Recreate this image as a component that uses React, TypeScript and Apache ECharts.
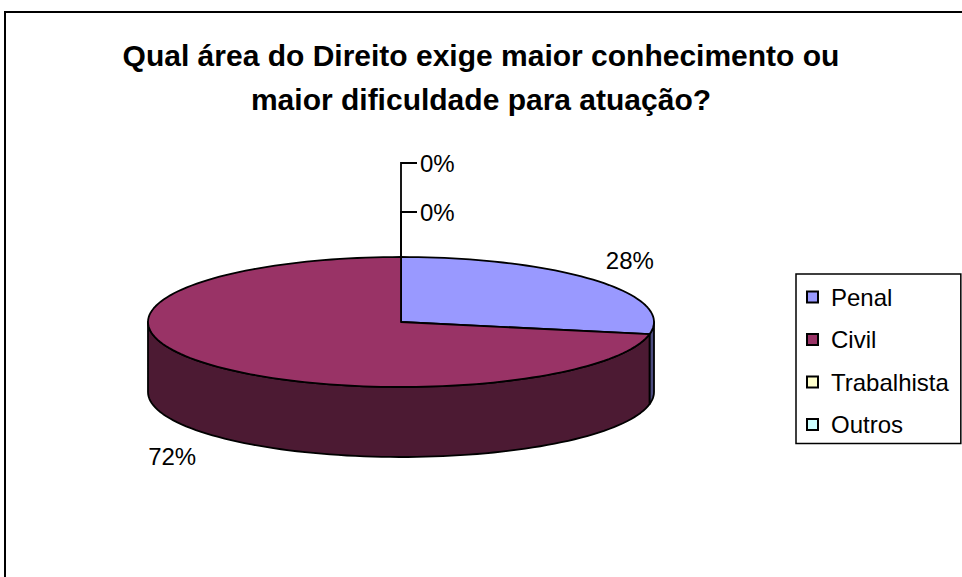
import React, { useEffect, useRef } from "react";
import * as echarts from "echarts";

const titleLines = ["Qual área do Direito exige maior conhecimento ou", "maior dificuldade para atuação?"];
const categories = ["Penal", "Civil", "Trabalhista", "Outros"];
const values = [28, 72, 0, 0];
const topColors = ["#9999FF", "#993366", "#FFFFCC", "#CCFFFF"];
const sideColors = ["#4D4D80", "#4C1A33", "#80806A", "#6A8080"];

const FONT = "'Liberation Sans', Arial, sans-serif";

export default function App() {
  const ref = useRef<HTMLDivElement>(null);
  useEffect(() => {
    if (!ref.current) return;
    const chart = echarts.init(ref.current, null, { renderer: "svg" });
    const total = values.reduce((a, b) => a + b, 0);

    const cx = 401, cy = 322, rx = 253, ry = 65, depth = 70;
    const pt = (deg: number, dy = 0) => {
      const r = (deg * Math.PI) / 180;
      return [cx + rx * Math.sin(r), cy - ry * Math.cos(r) + dy];
    };
    const arc = (a0: number, a1: number, dy = 0) => {
      const pts: number[][] = [];
      const n = Math.max(2, Math.ceil(Math.abs(a1 - a0) / 2));
      for (let i = 0; i <= n; i++) pts.push(pt(a0 + ((a1 - a0) * i) / n, dy));
      return pts;
    };

    const slices: { a0: number; a1: number }[] = [];
    let acc = 0;
    values.forEach((v) => {
      const a0 = (acc / total) * 360;
      acc += v;
      slices.push({ a0, a1: (acc / total) * 360 });
    });

    const stroke = { stroke: "#000", lineWidth: 1.8, lineJoin: "round" as const };

    const renderItem = (params: any) => {
      const idx = params.dataIndex;
      const { a0, a1 } = slices[idx];
      const v = values[idx];
      const children: any[] = [];
      const pct = Math.round((v / total) * 100) + "%";
      if (v > 0) {
        const s0 = Math.max(a0, 90), s1 = Math.min(a1, 270);
        if (s1 > s0) {
          const top = arc(s0, s1);
          const bot = arc(s1, s0, depth);
          children.push({
            type: "polygon",
            shape: { points: top.concat(bot) },
            style: { fill: sideColors[idx], ...stroke },
          });
        }
        children.push({
          type: "polygon",
          shape: { points: [[cx, cy]].concat(arc(a0, a1)) },
          style: { fill: topColors[idx], ...stroke },
        });
        const mid = ((a0 + a1) / 2) * Math.PI / 180;
        const c = Math.cos(mid);
        const lx = cx + (rx + 44) * Math.sin(mid);
        const ly = cy - (ry + 32) * c + (c < 0 ? depth + 3 : 0);
        children.push({
          type: "text",
          x: lx, y: ly,
          style: { text: pct, font: `24px ${FONT}`, fill: "#000", align: "center", verticalAlign: "middle" },
          z2: 10,
        });
      } else {
        // zero slices: stacked labels above the top with a leader line
        const zeroIdx = values.slice(0, idx).filter((x) => x === 0).length;
        const topY = cy - ry;
        const ty = topY - 45 - 49 * zeroIdx;
        children.push({
          type: "polyline",
          shape: { points: [[cx, topY], [cx, ty], [cx + 16, ty]] },
          style: { stroke: "#000", lineWidth: 1.8, fill: null },
        });
        children.push({
          type: "text",
          x: cx + 19, y: ty,
          style: { text: pct, font: `24px ${FONT}`, fill: "#000", align: "left", verticalAlign: "middle" },
        });
      }
      return { type: "group", children };
    };

    const legendSeries = categories.map((name, i) => ({
      type: "custom" as const,
      name,
      coordinateSystem: "none",
      data: [],
      renderItem: () => ({ type: "group", children: [] }),
      itemStyle: { color: topColors[i], borderColor: "#000", borderWidth: 1 },
    }));

    chart.setOption({
      animation: false,
      backgroundColor: "#fff",
      title: {
        text: titleLines.join("\n"),
        left: 476,
        top: 28,
        textAlign: "center",
        textStyle: { fontFamily: FONT, fontWeight: "bold", fontSize: 30, lineHeight: 44, color: "#000" },
      },
      legend: {
        orient: "vertical",
        left: 796,
        top: 274,
        data: categories,
        icon: "rect",
        itemWidth: 11,
        itemHeight: 11,
        itemGap: 18.5,
        padding: [11, 12, 7, 10],
        borderColor: "#000",
        borderWidth: 1.5,
        textStyle: { fontFamily: FONT, fontSize: 24, color: "#000", padding: [0, 0, 0, 8] },
        selectedMode: false,
      },
      graphic: [
        {
          type: "polyline",
          shape: { points: [[5, 620], [5, 12], [970, 12]] },
          style: { fill: null, stroke: "#000", lineWidth: 2 },
          silent: true,
        },
      ],
      series: [
        ...legendSeries,
        {
          type: "custom",
          name: "pie3d",
          coordinateSystem: "none",
          data: values.map((v, i) => ({ name: categories[i], value: v })),
          renderItem,
        },
      ],
    });
    return () => chart.dispose();
  }, []);
  return <div ref={ref} style={{ width: 962, height: 577, position: "absolute", left: 0, top: 0 }} />;
}
